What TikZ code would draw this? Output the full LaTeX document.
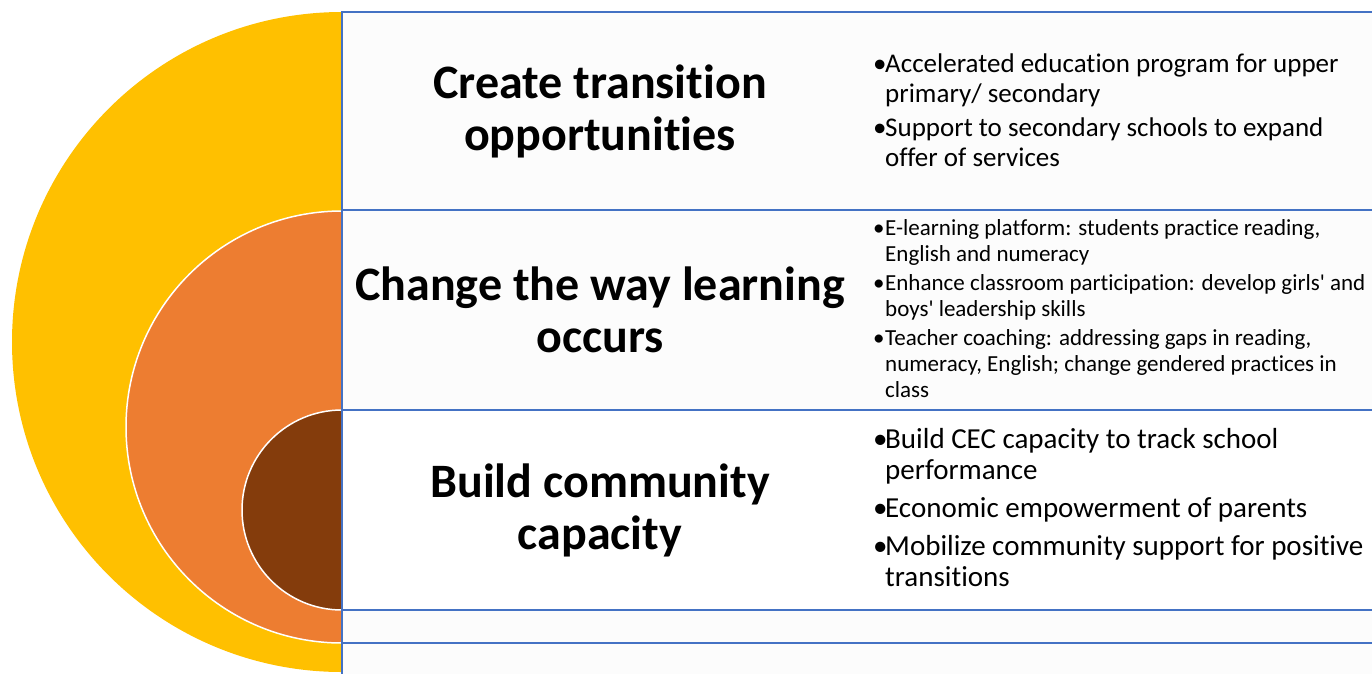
\documentclass[tikz,border=0pt]{standalone}
\usepackage{fontspec}
\setmainfont{Carlito}[Ligatures=NoCommon]
\definecolor{ringyellow}{HTML}{FFC000}
\definecolor{ringorange}{HTML}{ED7D31}
\definecolor{ringbrown}{HTML}{843C0C}
\definecolor{bandblue}{HTML}{4472C4}
\definecolor{bandgray}{HTML}{FCFCFC}
\newcommand{\bpt}[1]{\makebox[12pt][l]{\textbullet}#1}
\newcommand{\bcont}{\hspace*{12pt}}

\begin{document}
\begin{tikzpicture}[x=1pt,y=-1pt,
    ring/.style={draw=white,line width=1.5pt},
    band/.style={draw=bandblue,line width=2.5pt},
    title/.style={font=\fontsize{48}{52}\selectfont\bfseries,align=center},
    items/.style={anchor=west,align=left,inner sep=0pt}]
    \useasboundingbox (0,0) rectangle (1372,673);
    \clip (0,0) rectangle (1372,673);
    % bands
    \filldraw[band,fill=bandgray] (342,12) rectangle (1390,210);
    \filldraw[band,fill=bandgray] (342,210) rectangle (1390,410);
    \filldraw[band,fill=white] (342,410) rectangle (1390,610);
    \filldraw[band,fill=bandgray] (342,610) rectangle (1390,643);
    \filldraw[band,fill=bandgray] (342,643) rectangle (1390,700);
    % half rings
    \begin{scope}
        \clip (0,0) rectangle (341,700);
        \fill[ringyellow] (342,342) circle[radius=330];
        \filldraw[ring,fill=ringorange] (342,427) circle[radius=216];
        \filldraw[ring,fill=ringbrown] (342,510) circle[radius=100];
    \end{scope}
    \draw[band] (342,12) -- (342,700);
    % titles
    \node[title] (t1) at (600,111) {Create transition\\opportunities};
    \node[title] (t2) at (600,310) {Change the way learning\\occurs};
    \node[title] (t3) at (600,510) {Build community\\capacity};
    % bullet lists
    \node[items,font=\fontsize{27}{30}\selectfont] (l1) at (873,110) {%
        \bpt{Accelerated education program for upper}\\
        \bcont primary/ secondary\\[4pt]
        \bpt{Support to secondary schools to expand}\\
        \bcont offer of services};
    \node[items,font=\fontsize{23}{26}\selectfont] (l2) at (873,309) {%
        \bpt{E-learning platform: students practice reading,}\\
        \bcont English and numeracy\\[3pt]
        \bpt{Enhance classroom participation: develop girls\textquotesingle{} and}\\
        \bcont boys\textquotesingle{} leadership skills\\[3pt]
        \bpt{Teacher coaching: addressing gaps in reading,}\\
        \bcont numeracy, English; change gendered practices in\\
        \bcont class};
    \node[items,font=\fontsize{29}{31}\selectfont] (l3) at (873,508) {%
        \bpt{Build CEC capacity to track school}\\
        \bcont performance\\[7pt]
        \bpt{Economic empowerment of parents}\\[7pt]
        \bpt{Mobilize community support for positive}\\
        \bcont transitions};
\end{tikzpicture}
\end{document}
